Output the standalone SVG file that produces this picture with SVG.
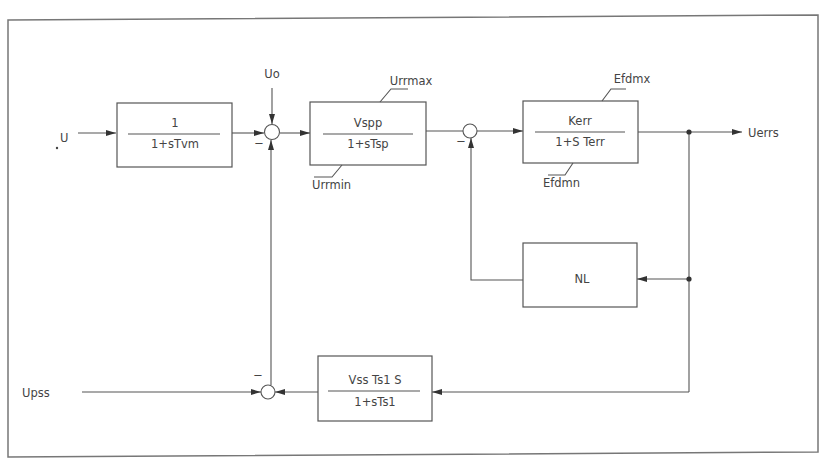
<svg xmlns="http://www.w3.org/2000/svg" width="822" height="459" viewBox="0 0 822 459">
<defs>
<marker id="ah" viewBox="0 0 10 6" refX="10" refY="3" markerWidth="10" markerHeight="6" markerUnits="userSpaceOnUse" orient="auto">
<path d="M0,0 L10,3 L0,6 Z" fill="#333"/>
</marker>
<style>
.ln{stroke:#555;stroke-width:1.1;fill:none}
.bx{stroke:#555;stroke-width:1.2;fill:none}
.t{font-family:"DejaVu Sans","Liberation Sans",sans-serif;font-size:11.5px;fill:#444;text-anchor:middle}
.tl{font-family:"DejaVu Sans","Liberation Sans",sans-serif;font-size:11.5px;fill:#444}
.dot{fill:#333}
</style>
</defs>
<rect width="822" height="459" fill="#fff"/>
<polygon points="8,20 818,15 818,452 8,457" fill="none" stroke="#777" stroke-width="1.5"/>

<g id="connectors">
<path class="ln" d="M78,133 H116" marker-end="url(#ah)"/>
<path class="ln" d="M232,133 H264" marker-end="url(#ah)"/>
<path class="ln" d="M272,88 V124" marker-end="url(#ah)"/>
<path class="ln" d="M280,133 H310" marker-end="url(#ah)"/>
<path class="ln" d="M426,131 H463"/>
<path class="ln" d="M477,131 H523" marker-end="url(#ah)"/>
<path class="ln" d="M638,132 H742" marker-end="url(#ah)"/>
<path class="ln" d="M689,132 V392"/>
<path class="ln" d="M689,279 H637" marker-end="url(#ah)"/>
<path class="ln" d="M523,280 H471 V138" marker-end="url(#ah)"/>
<path class="ln" d="M689,392 H432" marker-end="url(#ah)"/>
<path class="ln" d="M318,392 H275" marker-end="url(#ah)"/>
<path class="ln" d="M82,392 H261" marker-end="url(#ah)"/>
<path class="ln" d="M271,385 V140" marker-end="url(#ah)"/>
<circle class="dot" cx="689" cy="132" r="2.6"/>
<circle class="dot" cx="689" cy="279" r="2.6"/>
</g>

<g id="in_U">
<text class="tl" x="60" y="142" font-size="13">U</text>
<circle cx="57" cy="148" r="1.2" fill="#444"/>
</g>

<g id="block_Tvm">
<rect class="bx" x="117" y="103" width="115" height="64"/>
<line class="ln" x1="128" y1="134" x2="220" y2="134"/>
<text class="t" x="175" y="127">1</text>
<text class="t" x="175" y="148">1+sTvm</text>
</g>

<g id="sum1">
<circle class="ln" cx="272" cy="132" r="7.5"/>
<text class="t" x="272" y="78">Uo</text>
<text class="t" x="259" y="147">−</text>
</g>

<g id="block_Vspp">
<rect class="bx" x="310" y="102" width="116" height="63"/>
<line class="ln" x1="323" y1="134" x2="413" y2="134"/>
<text class="t" x="368" y="127">Vspp</text>
<text class="t" x="368" y="148">1+sTsp</text>
<path class="ln" d="M380,102 L391,89 H408"/>
<text class="t" x="411" y="85">Urrmax</text>
<path class="ln" d="M342,165 L332,177 H314"/>
<text class="tl" x="312" y="189">Urrmin</text>
</g>

<g id="sum2">
<circle class="ln" cx="470" cy="131" r="7"/>
<text class="t" x="461" y="145">−</text>
</g>

<g id="block_Kerr">
<rect class="bx" x="523" y="101" width="115" height="62"/>
<line class="ln" x1="535" y1="132" x2="625" y2="132"/>
<text class="t" x="580" y="125">Kerr</text>
<text class="t" x="580" y="146">1+S Terr</text>
<path class="ln" d="M602,101 L611,89 H626"/>
<text class="t" x="632" y="83">Efdmx</text>
<path class="ln" d="M573,163 L565,175 H548"/>
<text class="tl" x="543" y="187">Efdmn</text>
</g>

<g id="out_Uerrs">
<text class="tl" x="748" y="137" font-size="13">Uerrs</text>
</g>

<g id="block_NL">
<rect class="bx" x="523" y="243" width="114" height="64"/>
<text class="t" x="582" y="283">NL</text>
</g>

<g id="in_Upss">
<text class="tl" x="22" y="397" font-size="12.5">Upss</text>
</g>

<g id="sum3">
<circle class="ln" cx="268" cy="392" r="7"/>
<text class="t" x="258" y="379">−</text>
</g>

<g id="block_Vss">
<rect class="bx" x="318" y="356" width="114" height="65"/>
<line class="ln" x1="328" y1="391" x2="420" y2="391"/>
<text class="t" x="375" y="384">Vss Ts1 S</text>
<text class="t" x="375" y="406">1+sTs1</text>
</g>
</svg>
